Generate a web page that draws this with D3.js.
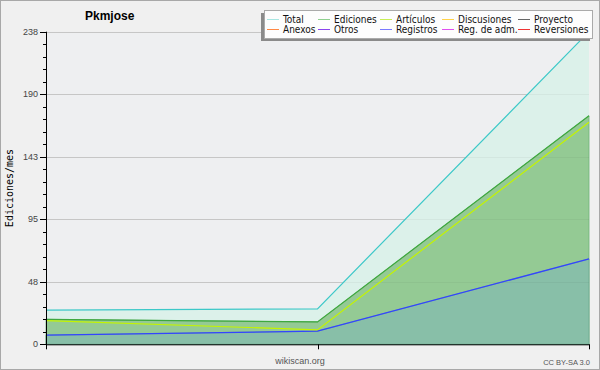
<!DOCTYPE html>
<html><head><meta charset="utf-8">
<script src="https://cdn.jsdelivr.net/npm/d3@7"></script>
<style>
html,body{margin:0;padding:0;background:#f0f0f0;}
svg{display:block;}
</style></head>
<body>
<svg id="c" width="600" height="370"></svg>
<script>
// ---- data ----
const periods = ["p1", "p2", "p3"];
const total = [26, 27, 238];
const ediciones = [19, 17, 174];
const articulos = [18, 11, 169];
const registros = [7, 10, 65];
const yMax = 238;
const yTickLabels = ["0", "48", "95", "143", "190", "238"];
const legendNames = ["Total", "Ediciones", "Artículos", "Discusiones", "Proyecto",
                     "Anexos", "Otros", "Registros", "Reg. de adm.", "Reversiones"];
const legendColors = ["#a8e6e2", "#8fd08f", "#c8ee55", "#ffd24a", "#666666",
                      "#ff8844", "#8a44ee", "#7a7aff", "#e050f0", "#ee3333"];

(function () {
// ---- layout ----
const svg = d3.select("#c");
const W = 600, H = 370;
const pL = 46, pR = 589, pT = 31.7, pB = 344.3;

svg.append("rect").attr("x", 0.5).attr("y", 0.5).attr("width", W - 1).attr("height", H - 1)
  .attr("fill", "#f0f0f0").attr("stroke", "#a8a8a8");
svg.append("rect").attr("x", pL).attr("y", pT).attr("width", pR - pL).attr("height", pB - pT)
  .attr("fill", "#eeeff1");

const x = d3.scalePoint().domain(periods).range([pL, pR]);
const y = d3.scaleLinear().domain([0, yMax]).range([pB, pT]);

const majorVals = d3.range(6).map(i => i * yMax / 5);
const minorVals = d3.range(26).map(i => i * yMax / 25);

// gridlines
svg.append("g").selectAll("line").data(majorVals.slice(1)).join("line")
  .attr("x1", pL).attr("x2", pR)
  .attr("y1", d => Math.round(y(d)) + 0.5).attr("y2", d => Math.round(y(d)) + 0.5)
  .attr("stroke", "#cfcfcf").attr("stroke-width", 1);

const area = arr => d3.area().x((d, i) => x(periods[i])).y0(y(0)).y1(d => y(d))(arr);
const line = arr => d3.line().x((d, i) => x(periods[i])).y(d => y(d))(arr);

svg.append("path").attr("d", area(total)).attr("fill", "#dcf1ea");
svg.append("path").attr("d", area(ediciones)).attr("fill", "#94ca94").attr("stroke", "#6fb27a").attr("stroke-width", 0.8);
svg.append("path").attr("d", area(registros)).attr("fill", "#88bfa8").attr("stroke", "#6aa88e").attr("stroke-width", 0.8);

// gridlines faintly over fills
svg.append("g").selectAll("line").data(majorVals.slice(1)).join("line")
  .attr("x1", pL).attr("x2", pR)
  .attr("y1", d => Math.round(y(d)) + 0.5).attr("y2", d => Math.round(y(d)) + 0.5)
  .attr("stroke", "#000").attr("stroke-opacity", 0.04);

svg.append("path").attr("d", line(total)).attr("fill", "none").attr("stroke", "#3cc8c8").attr("stroke-width", 1.2);
svg.append("path").attr("d", line(ediciones)).attr("fill", "none").attr("stroke", "#3ea83e").attr("stroke-width", 1.2);
svg.append("path").attr("d", line(articulos)).attr("fill", "none").attr("stroke", "#c4f400").attr("stroke-width", 1.2);
svg.append("path").attr("d", line(registros)).attr("fill", "none").attr("stroke", "#3344ff").attr("stroke-width", 1.3);

// y axis
const ya = svg.append("g");
ya.append("line").attr("x1", pL + 0.5).attr("x2", pL + 0.5).attr("y1", pT).attr("y2", pB + 0.5)
  .attr("stroke", "#000");
ya.selectAll(".mn").data(minorVals).join("line").attr("class", "mn")
  .attr("x1", pL - 3).attr("x2", pL)
  .attr("y1", d => Math.round(y(d)) + 0.5).attr("y2", d => Math.round(y(d)) + 0.5)
  .attr("stroke", "#000");
ya.selectAll(".mj").data(majorVals).join("line").attr("class", "mj")
  .attr("x1", pL - 6).attr("x2", pL)
  .attr("y1", d => Math.round(y(d)) + 0.5).attr("y2", d => Math.round(y(d)) + 0.5)
  .attr("stroke", "#000");
ya.selectAll("text").data(majorVals).join("text")
  .attr("x", pL - 8).attr("y", d => y(d) + 3)
  .attr("text-anchor", "end")
  .attr("font-family", "'Liberation Sans', Arial, sans-serif").attr("font-size", 9)
  .attr("fill", "#444").text((d, i) => yTickLabels[i]);

// x axis
const xa = svg.append("g");
xa.append("line").attr("x1", pL).attr("x2", pR + 0.5).attr("y1", pB + 0.5).attr("y2", pB + 0.5)
  .attr("stroke", "#000");
xa.selectAll("line.t").data(periods).join("line").attr("class", "t")
  .attr("x1", d => Math.round(x(d)) + 0.5).attr("x2", d => Math.round(x(d)) + 0.5)
  .attr("y1", pB).attr("y2", pB + 5).attr("stroke", "#000");

svg.append("text").attr("x", 300).attr("y", 364).attr("text-anchor", "middle")
  .attr("font-family", "'Liberation Sans', Arial, sans-serif").attr("font-size", 9)
  .attr("fill", "#555").text("wikiscan.org");
svg.append("text").attr("x", 590).attr("y", 365).attr("text-anchor", "end")
  .attr("font-family", "'Liberation Sans', Arial, sans-serif").attr("font-size", 7.5)
  .attr("fill", "#555").text("CC BY-SA 3.0");

// y title
svg.append("text").attr("transform", "translate(13,188) rotate(-90)")
  .attr("text-anchor", "middle")
  .attr("font-family", "'DejaVu Sans Mono', monospace").attr("font-size", 10)
  .attr("fill", "#000").text("Ediciones/mes");

// title
svg.append("text").attr("x", 85).attr("y", 19.5)
  .attr("font-family", "'Liberation Sans', Arial, sans-serif").attr("font-size", 12)
  .attr("font-weight", "bold").attr("fill", "#000").text("Pkmjose");

// legend
const lg = svg.append("g");
lg.append("rect").attr("x", 261).attr("y", 13).attr("width", 329).attr("height", 28).attr("fill", "#8a8a8a");
lg.append("rect").attr("x", 264.5).attr("y", 10.5).attr("width", 328).attr("height", 28)
  .attr("fill", "#fdfdfd").attr("stroke", "#aaaaaa");
const colX = [267, 318, 380, 442, 518];
legendNames.forEach((name, i) => {
  const c = i % 5, r = Math.floor(i / 5);
  const lx = colX[c], ly = r === 0 ? 19.5 : 29.5;
  lg.append("line").attr("x1", lx).attr("x2", lx + 12).attr("y1", ly).attr("y2", ly)
    .attr("stroke", legendColors[i]).attr("stroke-width", 1);
  lg.append("text").attr("x", lx + 16).attr("y", ly + 3.5)
    .attr("font-family", "'DejaVu Sans Condensed', 'DejaVu Sans', sans-serif")
    .attr("font-stretch", "condensed").attr("font-size", 10)
    .attr("fill", "#111").text(name);
});
})();
</script>
</body></html>
